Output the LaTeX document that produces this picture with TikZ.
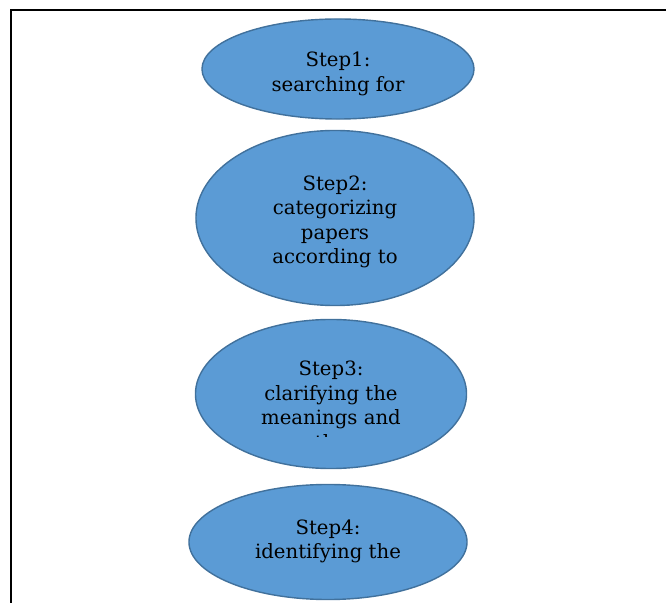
\documentclass[tikz,border=0pt]{standalone}
\usepackage{fontspec}
\setmainfont{DejaVu Serif}
\usetikzlibrary{shapes}

\definecolor{stepfill}{HTML}{5B9BD5}
\definecolor{stepline}{HTML}{41719C}

\tikzset{
  stepshape/.style={draw=stepline, fill=stepfill, ellipse, line width=1pt, inner sep=0pt},
  steptext/.style={align=center, inner sep=0pt, font=\fontsize{14}{17.4}\selectfont}
}

\begin{document}
\begin{tikzpicture}[x=0.025cm, y=-0.025cm]
        \path[use as bounding box] (0,0) rectangle (666,603);
        \clip (0,0) rectangle (666,603);

        \draw[line width=1.4pt] (11,10) rectangle (690,640);

        \node [stepshape, minimum width=6.8cm, minimum height=2.5cm] (s1) at (338, 69) {};
        \node [stepshape, minimum width=6.95cm, minimum height=4.375cm] (s2) at (335, 218) {};
        \node [stepshape, minimum width=6.775cm, minimum height=3.725cm] (s3) at (331, 394) {};
        \node [stepshape, minimum width=6.95cm, minimum height=2.875cm] (s4) at (328, 542) {};

        \node [steptext] (t1) at ([yshift=-0.12cm]s1.center) {Step1:\\searching for};
        \node [steptext] (t2) at ([yshift=-0.1cm]s2.center) {Step2:\\categorizing\\papers\\according to};
        \begin{scope}
          \clip (196,320) rectangle (467,437);
          \node [steptext] (t3) at ([yshift=-0.28cm]s3.center) {Step3:\\clarifying the\\meanings and\\the};
        \end{scope}
        \node [steptext] (t4) at ([yshift=0.02cm]s4.center) {Step4:\\identifying the};
      \end{tikzpicture}
\end{document}
